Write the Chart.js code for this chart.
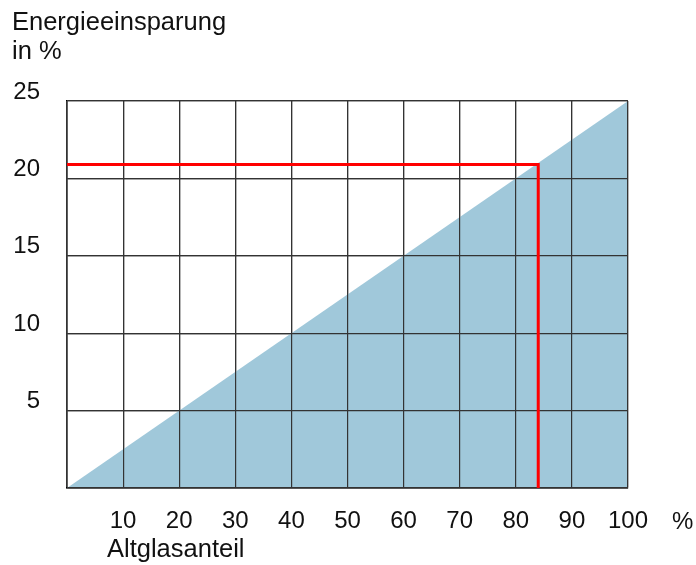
<!DOCTYPE html>
<html lang="de">
<head>
  <meta charset="UTF-8">
  <title>Energieeinsparung</title>
  <script src="https://cdn.jsdelivr.net/npm/chart.js"></script>
  <style>
    html, body {
      margin: 0;
      padding: 0;
      background: #fff;
    }
    #wrap {
      width: 696px;
      height: 565px;
    }
  </style>
</head>
<body>
<div id="wrap"><canvas id="myChart"></canvas></div>

<script>
  // Daten
  const altglas = [0, 100];            // Altglasanteil in %
  const einsparung = [0, 25];          // Energieeinsparung in %
  const markX = [0, 84, 84];           // rote Ablese-Linie
  const markY = [20.9, 20.9, 0];
  const xTicks = [10, 20, 30, 40, 50, 60, 70, 80, 90, 100];
  const yTicks = [5, 10, 15, 20, 25];

  const FONT = 'Liberation Sans, Arial, sans-serif';

  // Gitter über der blauen Fläche nochmal zeichnen
  const gridOnTop = {
    id: 'gridOnTop',
    afterDatasetDraw(chart, args) {
      if (args.index !== 1) return;
      const ctx = chart.ctx;
      ctx.save();
      chart.scales.x.drawGrid(chart.chartArea);
      chart.scales.y.drawGrid(chart.chartArea);
      ctx.restore();
    }
  };

  // Achsentitel
  const labels = {
    id: 'labels',
    afterDraw(chart) {
      const ctx = chart.ctx;
      ctx.save();
      ctx.fillStyle = '#111';
      ctx.font = '25.5px ' + FONT;
      ctx.textAlign = 'left';
      ctx.textBaseline = 'alphabetic';
      ctx.fillText('Energieeinsparung', 12, 30);
      ctx.fillText('in %', 12, 59);
      ctx.fillText('Altglasanteil', 107, 557);
      ctx.font = '24px ' + FONT;
      ctx.fillText('%', 672, 529);
      ctx.restore();
    }
  };

  const ctx = document.getElementById('myChart').getContext('2d');
  const myChart = new Chart(ctx, {
    type: 'line',
    data: {
      datasets: [
        {
          label: 'Ablesung',
          data: markX.map((x, i) => ({ x: x, y: markY[i] })),
          borderColor: '#ff0000',
          borderWidth: 3,
          pointRadius: 0,
          fill: false,
          tension: 0,
          order: 0
        },
        {
          label: 'Energieeinsparung',
          data: altglas.map((x, i) => ({ x: x, y: einsparung[i] })),
          backgroundColor: '#a0c8da',
          borderWidth: 0,
          pointRadius: 0,
          fill: 'origin',
          tension: 0,
          order: 1
        }
      ]
    },
    options: {
      responsive: true,
      maintainAspectRatio: false,
      animation: false,
      layout: { padding: { left: 0, right: 68, top: 101, bottom: 0 } },
      plugins: {
        legend: { display: false },
        tooltip: { enabled: false }
      },
      scales: {
        x: {
          type: 'linear',
          min: 0,
          max: 100,
          afterBuildTicks: s => { s.ticks = [0].concat(xTicks).map(v => ({ value: v })); },
          afterFit: s => { s.height = 77; },
          grid: { color: '#333', lineWidth: 1.2, drawTicks: false },
          border: { color: '#000', width: 1.5 },
          ticks: {
            padding: 19,
            color: '#111',
            font: { family: FONT, size: 24 },
            maxRotation: 0,
            callback: v => v === 0 ? '' : String(v)
          }
        },
        y: {
          type: 'linear',
          min: 0,
          max: 25,
          afterBuildTicks: s => { s.ticks = [0].concat(yTicks).map(v => ({ value: v })); },
          afterFit: s => { s.width = 67; },
          grid: { color: '#333', lineWidth: 1.2, drawTicks: false },
          border: { color: '#000', width: 1.5 },
          ticks: {
            padding: 27,
            labelOffset: -9,
            color: '#111',
            font: { family: FONT, size: 24 },
            callback: v => v === 0 ? '' : String(v)
          }
        }
      }
    },
    plugins: [gridOnTop, labels]
  });
</script>
</body>
</html>
